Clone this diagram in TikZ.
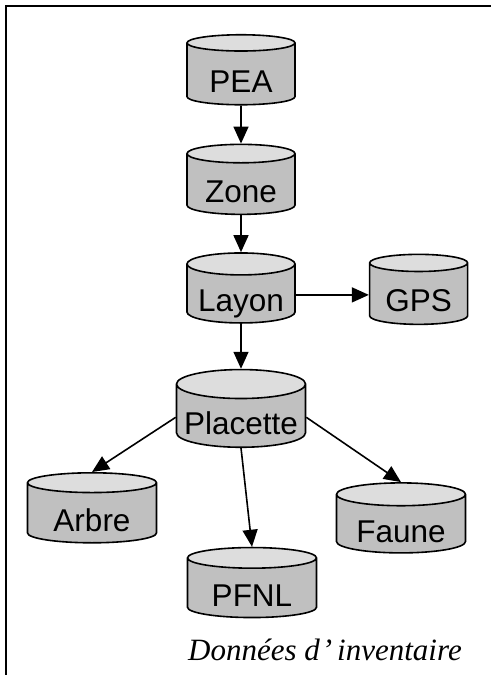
\documentclass[tikz,border=0pt]{standalone}
\usepackage{fontspec}
\setmainfont{Liberation Serif}
\setsansfont{Liberation Sans}
\usetikzlibrary{shapes.geometric, positioning, arrows.meta}

\definecolor{corps}{HTML}{C0C0C0}
\definecolor{dessus}{HTML}{DDDDDD}

\begin{document}
\begin{tikzpicture}[x=1pt, y=1pt, node distance=38pt,
	base/.style={cylinder, shape border rotate=90, aspect=0.25, draw, line width=1.6pt,
		cylinder uses custom fill, cylinder body fill=corps, cylinder end fill=dessus,
		minimum height=70pt, inner sep=1pt, text height=34pt, text depth=0pt,
		font=\sffamily\fontsize{31.5}{32}\selectfont},
	petite/.style={base, minimum width=108pt},
	grande/.style={base, minimum width=129pt},
	fleche/.style={-{Triangle[length=17pt,width=15pt]}, line width=1.6pt}]
	\useasboundingbox (0,0) rectangle (491,-675);
	\draw[line width=1.8pt] (6,-675) -- (6,-6) -- (491,-6);
	\node[petite] (PEA) at (241,-75) {PEA};
	\node[petite] (Zone) [below=of PEA] {Zone};
	\node[petite] (Layon) [below=37pt of Zone] {Layon};
	\node[base, minimum width=98pt] (GPS) [right=73pt of Layon] {GPS};
	\node[grande] (Placette) [below=45pt of Layon] {Placette};
	\node[grande] (Arbre) at (92,-514) {Arbre};
	\node[grande] (PFNL) at (252,-589) {PFNL};
	\node[grande] (Faune) at (401,-525) {Faune};
	\node (titre) at (325,-650) {\itshape\fontsize{31}{31}\selectfont Données d\kern2pt’\kern5pt inventaire};
	\path[fleche]
		(PEA.bottom) edge (Zone.top)
		(Zone.bottom) edge (Layon.top)
		(Layon.east) edge (GPS.west)
		(Layon.bottom) edge (Placette.top)
		(Placette.west) edge (Arbre.top)
		(Placette.bottom) edge (PFNL.top)
		(Placette.east) edge (Faune.top)
	;
\end{tikzpicture}
\end{document}
